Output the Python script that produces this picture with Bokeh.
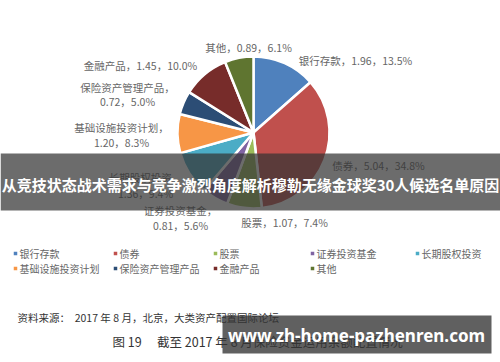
import math
from bokeh.plotting import figure
from bokeh.models import Range1d
from bokeh.core.properties import value
from bokeh.embed import file_html
from bokeh.resources import INLINE

# ---- data ----
categories = ["银行存款", "债券", "股票", "证券投资基金", "长期股权投资",
              "基础设施投资计划", "保险资产管理产品", "金融产品", "其他"]
amounts = [1.96, 5.04, 1.07, 0.81, 1.36, 1.20, 0.72, 1.45, 0.89]
percents = [13.5, 34.8, 7.4, 5.6, 9.4, 8.3, 5.0, 10.0, 6.1]
colors = ["#4F81BD", "#C0504D", "#9BBB59", "#8064A2", "#4BACC6",
          "#F79646", "#2C4D75", "#772C2A", "#5F7530"]
headline = "从竞技状态战术需求与竞争激烈角度解析穆勒无缘金球奖30人候选名单原因"
url_text = "www.zh-home-pazhenren.com"
source_text = "资料来源：\u00a0\u00a02017 年 8 月，北京，大类资产配置国际论坛"
caption_text = "图 19\u3000\u00a0截至 2017 年 8 月保险资金运用余额配置情况"

W, H = 500, 362
def Y(py):
    return H - py

p = figure(width=W, height=H, x_range=Range1d(0, W), y_range=Range1d(0, H),
           output_backend="svg", toolbar_location=None, min_border=0)
p.axis.visible = False
p.grid.visible = False
p.outline_line_color = None
p.background_fill_color = "white"
p.border_fill_color = "white"

# ---- pie ----
cx, cy, r = 253, 132, 76
total = sum(percents)
starts, ends = [], []
acc = 0.0
for v in percents:
    starts.append(math.pi / 2 - acc / total * 2 * math.pi)
    acc += v
    ends.append(math.pi / 2 - acc / total * 2 * math.pi)
p.wedge(x=[cx] * len(percents), y=[Y(cy)] * len(percents), radius=r,
        start_angle=starts, end_angle=ends, direction="clock",
        fill_color=colors, line_color="white", line_width=2.5)

# ---- data labels ----
label_font = value("Noto Sans CJK SC")
label_color = "#666666"
# single-line labels: (index, center x, y)
single_pos = {0: (355, 60), 1: (378, 165), 2: (284, 222), 8: (248, 47), 7: (140, 65)}
# two-line labels: (index, center x, y1, y2)
double_pos = {3: (180, 210, 225), 4: (145, 177, 193), 5: (121, 127, 142), 6: (127, 87, 101)}
sx, sy, st = [], [], []
for i, (x, y) in single_pos.items():
    sx.append(x); sy.append(Y(y))
    st.append(f"{categories[i]}，{amounts[i]:.2f}，{percents[i]:.1f}%")
for i, (x, y1, y2) in double_pos.items():
    sx += [x, x]; sy += [Y(y1), Y(y2)]
    st += [f"{categories[i]}，", f"{amounts[i]:.2f}，{percents[i]:.1f}%"]
p.text(x=sx, y=sy, text=st, text_font=label_font, text_font_size="10.5px",
       text_color=label_color, text_align="center", text_baseline="middle")

# ---- legend ----
col_x = [15, 115, 215, 312, 417]
row_y = [253, 268]
lx, ly = [], []
for i in range(len(categories)):
    lx.append(col_x[i % 5]); ly.append(Y(row_y[i // 5]))
p.scatter(x=lx, y=ly, marker="square", size=3.5, fill_color=colors, line_color=None)
p.text(x=[x + 4 for x in lx], y=ly, text=categories, text_font=label_font,
       text_font_size="10px", text_color=label_color, text_baseline="middle")

# ---- source & caption ----
p.text(x=[17], y=[Y(317)], text=[source_text], text_font=label_font,
       text_font_size="10.5px", text_color="#333333", text_baseline="middle")
p.text(x=[112], y=[Y(341)], text=[caption_text], text_font=label_font,
       text_font_size="12.5px", text_color="#333333", text_baseline="middle")

# ---- overlay banners ----
p.quad(left=[0], right=[W], top=[Y(153)], bottom=[Y(210)],
       fill_color="#333333", fill_alpha=0.72, line_color=None)
p.text(x=[W / 2], y=[Y(184)], text=[headline], text_font=label_font,
       text_font_size="15px", text_font_style="bold", text_color="white",
       text_align="center", text_baseline="middle")

p.quad(left=[222], right=[491], top=[Y(315)], bottom=[Y(353)],
       fill_color="#333333", fill_alpha=0.78, line_color=None)
p.text(x=[356], y=[Y(335)], text=[url_text], text_font=value("Noto Sans"),
       text_font_size="17px", text_font_style="bold", text_color="white",
       text_align="center", text_baseline="middle")

open("out.html", "w").write(file_html(p, INLINE))
